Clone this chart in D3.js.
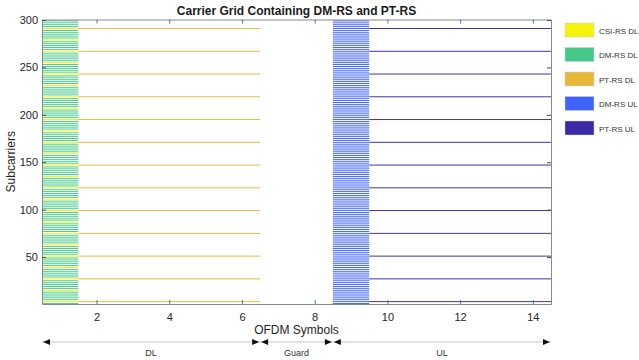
<!DOCTYPE html>
<html>
<head>
<meta charset="utf-8">
<script src="https://cdn.jsdelivr.net/npm/d3@7"></script>
<style>
  body { margin: 0; background: #fff; }
  svg { display: block; font-family: "Liberation Sans", Arial, sans-serif; background: #fff; }
</style>
</head>
<body>
<svg id="chart" width="639" height="360"></svg>
<script>
// grid size
const numSubcarriers = 300;
const symbols = [1, 2, 3, 4, 5, 6, 7, 8, 9, 10, 11, 12, 13, 14];

// slot layout
const dlDmrsSymbols = [1];
const dlPtrsSymbols = [2, 3, 4, 5, 6];
const guardSymbols = [7, 8];
const ulDmrsSymbols = [9];
const ulPtrsSymbols = [10, 11, 12, 13, 14];

// subcarrier allocations (1-based)
const dmrsCombStep = 2;
const dmrsCombOffset = 1;
const ptrsSubcarriers = [3, 27, 51, 75, 99, 123, 147, 171, 195, 219, 243, 267, 291];
const csirsSubcarriers = [3, 15, 27, 39, 51, 63, 75, 87, 99, 111, 123, 135, 147, 159, 171,
  183, 195, 207, 219, 231, 243, 255, 267, 279, 291];

// ticks
const xTicks = [2, 4, 6, 8, 10, 12, 14];
const yTicks = [50, 100, 150, 200, 250, 300];

// legend
const legendLabels = ['CSI-RS DL', 'DM-RS DL', 'PT-RS DL', 'DM-RS UL', 'PT-RS UL'];
const legendColors = ['#f5f20c', '#45c98a', '#e8b73a', '#3f63fb', '#3a28a6'];

// bottom annotation
const regions = [
  { label: 'DL', from: 0.5, to: 6.5 },
  { label: 'Guard', from: 6.5, to: 8.5 },
  { label: 'UL', from: 8.5, to: 14.5 }
];

const svg = d3.select('#chart');
const margin = { left: 42, right: 88, top: 19.5, bottom: 56 };
const width = 639 - margin.left - margin.right;
const height = 360 - margin.top - margin.bottom;

const x = d3.scaleLinear().domain([0.5, 14.5]).range([margin.left, margin.left + width]);
const y = d3.scaleLinear().domain([0.5, numSubcarriers + 0.5]).range([margin.top + height, margin.top]);

// build the grid: 0 empty, 1..5 legend index + 1
const grid = symbols.map(s => {
  const col = new Array(numSubcarriers + 1).fill(0);
  for (let k = 1; k <= numSubcarriers; k++) {
    if (dlDmrsSymbols.includes(s) && (k - dmrsCombOffset) % dmrsCombStep === 0) col[k] = 2;
    if (ulDmrsSymbols.includes(s) && (k - dmrsCombOffset) % dmrsCombStep === 0) col[k] = 4;
  }
  if (dlDmrsSymbols.includes(s)) csirsSubcarriers.forEach(k => { col[k] = 1; });
  if (dlPtrsSymbols.includes(s)) ptrsSubcarriers.forEach(k => { col[k] = 3; });
  if (ulPtrsSymbols.includes(s)) ptrsSubcarriers.forEach(k => { col[k] = 5; });
  return col;
});

// merge runs along symbols for each subcarrier
const runs = [];
for (let k = 1; k <= numSubcarriers; k++) {
  let start = 0;
  while (start < symbols.length) {
    const code = grid[start][k];
    let end = start;
    while (end + 1 < symbols.length && grid[end + 1][k] === code) end++;
    if (code > 0) runs.push({ k, code, s0: symbols[start], s1: symbols[end] });
    start = end + 1;
  }
}

const plot = svg.append('g');
plot.selectAll('rect.cell')
  .data(runs)
  .enter()
  .append('rect')
  .attr('class', 'cell')
  .attr('x', d => x(d.s0 - 0.5))
  .attr('width', d => x(d.s1 + 0.5) - x(d.s0 - 0.5))
  .attr('y', d => y(d.k + 0.5))
  .attr('height', d => y(d.k - 0.5) - y(d.k + 0.5))
  .attr('fill', d => legendColors[d.code - 1]);

// axes (MATLAB style, ticks inside, box)
const axisColor = '#8a8a8a';
const tickColor = '#3f7fa6';
const labelColor = '#262626';

const xAxis = svg.append('g').attr('transform', `translate(0,${margin.top + height})`)
  .call(d3.axisBottom(x).tickValues(xTicks).tickSizeInner(-4).tickSizeOuter(0).tickPadding(9));
const xAxisTop = svg.append('g').attr('transform', `translate(0,${margin.top})`)
  .call(d3.axisTop(x).tickValues(xTicks).tickSizeInner(-4).tickSizeOuter(0).tickFormat(''));
const yAxis = svg.append('g').attr('transform', `translate(${margin.left},0)`)
  .call(d3.axisLeft(y).tickValues(yTicks).tickSizeInner(-4).tickSizeOuter(0).tickPadding(4));
const yAxisRight = svg.append('g').attr('transform', `translate(${margin.left + width},0)`)
  .call(d3.axisRight(y).tickValues(yTicks).tickSizeInner(-4).tickSizeOuter(0).tickFormat(''));

[xAxis, xAxisTop, yAxis, yAxisRight].forEach(g => {
  g.select('.domain').attr('stroke', axisColor);
  g.selectAll('.tick line').attr('stroke', tickColor);
  g.selectAll('.tick text').attr('fill', labelColor).attr('font-size', 11)
    .attr('font-family', '"Liberation Sans", Arial, sans-serif');
});
yAxis.selectAll('.tick line').attr('stroke', '#2f5f4a');
yAxisRight.selectAll('.tick line').attr('stroke', '#4a4a4a');

// title and axis labels
svg.append('text')
  .attr('x', margin.left + width / 2)
  .attr('y', 15)
  .attr('text-anchor', 'middle')
  .attr('font-size', 12)
  .attr('font-weight', 'bold')
  .attr('fill', '#1a1a1a')
  .text('Carrier Grid Containing DM-RS and PT-RS');

svg.append('text')
  .attr('x', margin.left + width / 2)
  .attr('y', 334)
  .attr('text-anchor', 'middle')
  .attr('font-size', 12)
  .attr('fill', labelColor)
  .text('OFDM Symbols');

svg.append('text')
  .attr('transform', `translate(15,${margin.top + height / 2}) rotate(-90)`)
  .attr('text-anchor', 'middle')
  .attr('font-size', 12)
  .attr('fill', labelColor)
  .text('Subcarriers');

// region arrows below the axis
const arrowY = 342;
const ann = svg.append('g');
ann.append('line')
  .attr('x1', x(0.5)).attr('x2', x(14.5))
  .attr('y1', arrowY).attr('y2', arrowY)
  .attr('stroke', '#c4c4c4');

const head = (xTip, dir) => {
  const len = 7, half = 3;
  return `M${xTip},${arrowY}L${xTip - dir * len},${arrowY - half}L${xTip - dir * len},${arrowY + half}Z`;
};
regions.forEach(r => {
  ann.append('path').attr('d', head(x(r.from) + 1, -1)).attr('fill', '#111');
  ann.append('path').attr('d', head(x(r.to) - 1, 1)).attr('fill', '#111');
  ann.append('text')
    .attr('x', (x(r.from) + x(r.to)) / 2)
    .attr('y', 356)
    .attr('text-anchor', 'middle')
    .attr('font-size', 9)
    .attr('fill', '#333')
    .text(r.label);
});

// legend
const legend = svg.append('g').attr('transform', 'translate(565,23)');
const item = legend.selectAll('g.item')
  .data(legendLabels)
  .enter()
  .append('g')
  .attr('class', 'item')
  .attr('transform', (d, i) => `translate(0,${i * 24.5})`);
item.append('rect')
  .attr('width', 29)
  .attr('height', 14)
  .attr('fill', (d, i) => legendColors[i])
  .attr('stroke', '#d0d0d0')
  .attr('stroke-width', 0.5);
item.append('text')
  .attr('x', 34)
  .attr('y', 10.5)
  .attr('font-size', 8)
  .attr('fill', '#333')
  .text(d => d);
</script>
</body>
</html>
